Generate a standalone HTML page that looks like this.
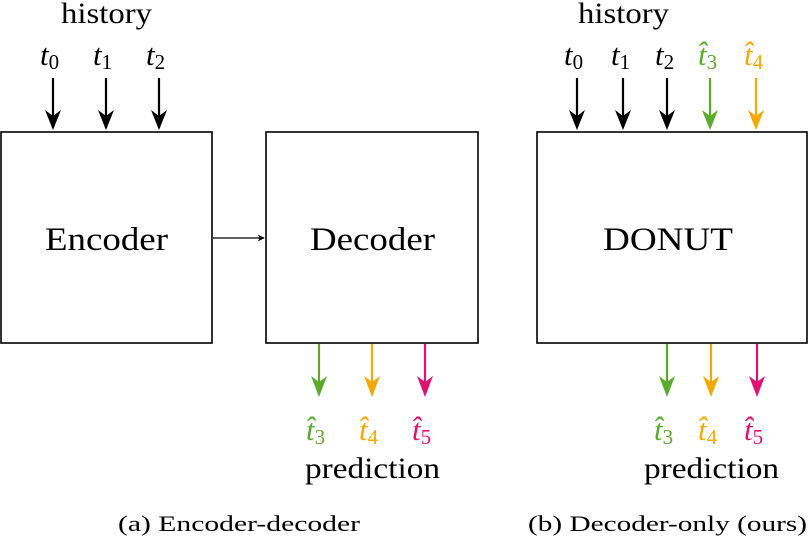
<!DOCTYPE html>
<html><head><meta charset="utf-8"><style>
body{margin:0;background:#fff}
svg{display:block}
text{font-family:"Liberation Serif",serif;fill:#000}
.m{font-style:italic;font-size:31px}
.s{font-style:normal;font-size:21px}
</style></head><body>
<svg width="809" height="543" viewBox="0 0 809 543">
<defs>
<marker id="ak" viewBox="0 0 10 10" refX="9" refY="5" markerWidth="7" markerHeight="7" orient="auto" markerUnits="userSpaceOnUse"><path d="M0,0 L10,5 L0,10 L3,5z" fill="#000"/></marker>
</defs>
<g>
<text x="61" y="23" font-size="30" textLength="91" lengthAdjust="spacingAndGlyphs">history</text>
<g>
<text class="m" x="40" y="65">t<tspan class="s" dy="4">0</tspan></text>
<text class="m" x="93" y="65">t<tspan class="s" dy="4">1</tspan></text>
<text class="m" x="146" y="65">t<tspan class="s" dy="4">2</tspan></text>
</g>
<g stroke="#000" stroke-width="2.2" fill="none">
<line x1="53" y1="78" x2="53" y2="128"/><path d="M45,110 L53,130 L61,110 L53,116z" fill="#000" stroke="none"/>
<line x1="106" y1="78" x2="106" y2="128"/><path d="M98,110 L106,130 L114,110 L106,116z" fill="#000" stroke="none"/>
<line x1="159" y1="78" x2="159" y2="128"/><path d="M151,110 L159,130 L167,110 L159,116z" fill="#000" stroke="none"/>
</g>
<rect x="1" y="132" width="211" height="211" fill="none" stroke="#000" stroke-width="1.6"/>
<text x="45" y="250" font-size="33" textLength="123" lengthAdjust="spacingAndGlyphs">Encoder</text>
<line x1="213" y1="238" x2="264" y2="238" stroke="#000" stroke-width="1.3" marker-end="url(#ak)"/>
<rect x="266" y="132" width="212" height="211" fill="none" stroke="#000" stroke-width="1.6"/>
<text x="310" y="250" font-size="33" textLength="125" lengthAdjust="spacingAndGlyphs">Decoder</text>
<g stroke-width="2.2">
<line x1="319" y1="344" x2="319" y2="392" stroke="#5aab2c"/><path d="M311,376 L319,397 L327,376 L319,382z" fill="#5aab2c"/>
<line x1="372" y1="344" x2="372" y2="392" stroke="#f5a900"/><path d="M364,376 L372,397 L380,376 L372,382z" fill="#f5a900"/>
<line x1="425" y1="344" x2="425" y2="392" stroke="#e2106e"/><path d="M417,376 L425,397 L433,376 L425,382z" fill="#e2106e"/>
</g>
<g>
<text class="m" x="306" y="440" style="fill:#5aab2c">t̂<tspan class="s" dy="4" style="fill:#5aab2c">3</tspan></text>
<text class="m" x="359" y="440" style="fill:#f5a900">t̂<tspan class="s" dy="4" style="fill:#f5a900">4</tspan></text>
<text class="m" x="412" y="440" style="fill:#e2106e">t̂<tspan class="s" dy="4" style="fill:#e2106e">5</tspan></text>
</g>
<text x="305" y="478" font-size="30" textLength="135" lengthAdjust="spacingAndGlyphs">prediction</text>
<text x="118" y="531" font-size="22" textLength="242" lengthAdjust="spacingAndGlyphs">(a) Encoder-decoder</text>
</g>
<g>
<text x="578" y="23" font-size="30" textLength="91" lengthAdjust="spacingAndGlyphs">history</text>
<g>
<text class="m" x="564" y="65">t<tspan class="s" dy="4">0</tspan></text>
<text class="m" x="611" y="65">t<tspan class="s" dy="4">1</tspan></text>
<text class="m" x="655" y="65">t<tspan class="s" dy="4">2</tspan></text>
<text class="m" x="698" y="65" style="fill:#5aab2c">t̂<tspan class="s" dy="4" style="fill:#5aab2c">3</tspan></text>
<text class="m" x="744" y="65" style="fill:#f5a900">t̂<tspan class="s" dy="4" style="fill:#f5a900">4</tspan></text>
</g>
<g stroke-width="2.2">
<line x1="577" y1="78" x2="577" y2="126" stroke="#000"/><path d="M569,110 L577,130 L585,110 L577,116z" fill="#000"/>
<line x1="623" y1="78" x2="623" y2="126" stroke="#000"/><path d="M615,110 L623,130 L631,110 L623,116z" fill="#000"/>
<line x1="667" y1="78" x2="667" y2="126" stroke="#000"/><path d="M659,110 L667,130 L675,110 L667,116z" fill="#000"/>
<line x1="710" y1="78" x2="710" y2="126" stroke="#5aab2c"/><path d="M702,110 L710,130 L718,110 L710,116z" fill="#5aab2c"/>
<line x1="756" y1="78" x2="756" y2="126" stroke="#f5a900"/><path d="M748,110 L756,130 L764,110 L756,116z" fill="#f5a900"/>
</g>
<rect x="537" y="132" width="270" height="211" fill="none" stroke="#000" stroke-width="1.6"/>
<text x="603" y="250" font-size="33" textLength="130" lengthAdjust="spacingAndGlyphs">DONUT</text>
<g stroke-width="2.2">
<line x1="667" y1="344" x2="667" y2="392" stroke="#5aab2c"/><path d="M659,376 L667,397 L675,376 L667,382z" fill="#5aab2c"/>
<line x1="711" y1="344" x2="711" y2="392" stroke="#f5a900"/><path d="M703,376 L711,397 L719,376 L711,382z" fill="#f5a900"/>
<line x1="757" y1="344" x2="757" y2="392" stroke="#e2106e"/><path d="M749,376 L757,397 L765,376 L757,382z" fill="#e2106e"/>
</g>
<g>
<text class="m" x="654" y="440" style="fill:#5aab2c">t̂<tspan class="s" dy="4" style="fill:#5aab2c">3</tspan></text>
<text class="m" x="698" y="440" style="fill:#f5a900">t̂<tspan class="s" dy="4" style="fill:#f5a900">4</tspan></text>
<text class="m" x="744" y="440" style="fill:#e2106e">t̂<tspan class="s" dy="4" style="fill:#e2106e">5</tspan></text>
</g>
<text x="644" y="478" font-size="30" textLength="135" lengthAdjust="spacingAndGlyphs">prediction</text>
<text x="528" y="531" font-size="22" textLength="279" lengthAdjust="spacingAndGlyphs">(b) Decoder-only (ours)</text>
</g>
</svg>
</body></html>
